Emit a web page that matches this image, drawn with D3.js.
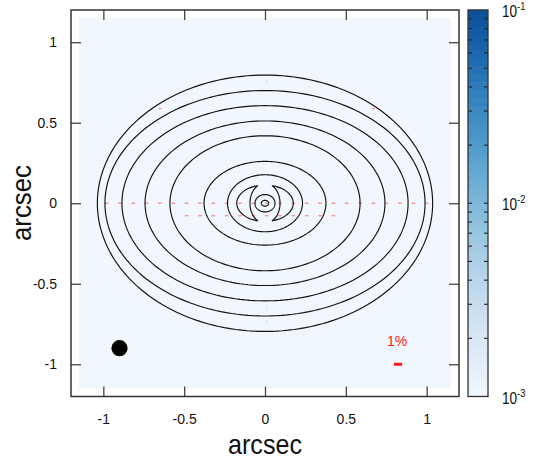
<!DOCTYPE html>
<html>
<head>
<meta charset="utf-8">
<script src="https://cdn.jsdelivr.net/npm/d3@7"></script>
<style>
  html, body { margin: 0; padding: 0; background: #ffffff; }
  svg { display: block; font-family: "Liberation Sans", Arial, Helvetica, sans-serif; }
</style>
</head>
<body>
<svg id="chart" width="551" height="460"></svg>
<script>
// ---------------- data (arcsec) ----------------
const axisTicks = [-1, -0.5, 0, 0.5, 1];
const axisTickLabels = ["-1", "-0.5", "0", "0.5", "1"];
const imageExtent = [-1.15, 1.15];

// intensity contours, approximated as centred ellipses: semi-axes in arcsec
const contourRx = [1.037, 0.99, 0.885, 0.742, 0.588, 0.377, 0.232, 0.062, 0.023];
const contourRy = [0.796, 0.70, 0.606, 0.511, 0.419, 0.26, 0.177, 0.054, 0.018];

// the broken ring (two crescents) between the inner levels
const crescentOuter = [0.175, 0.113];   // rx, ry of outer edge
const crescentInner = [0.093, 0.125];   // rx, ry of inner edge
const crescentTipX = 0.045;
const crescentSides = [-1, 1];

// polarization vectors: position (arcsec), fraction (%), angle (deg, 0 = horizontal)
const vecRow0X = [-0.98, -0.897, -0.815, -0.732, -0.65, -0.567, -0.485, -0.402, -0.32, -0.237, -0.155, -0.072, 0.01,
                  0.093, 0.175, 0.258, 0.34, 0.423, 0.505, 0.588, 0.67, 0.753, 0.835, 0.918, 1.0];
const vecRow0Y = 0.0;
const vecRow1X = [-0.485, -0.402, -0.32, -0.237, -0.155, -0.072, 0.01, 0.093, 0.175, 0.258, 0.34, 0.423];
const vecRow1Y = -0.077;
const vecRowP = 0.45;
const vecExtraX = [-0.65, 0.67, 0.588];
const vecExtraY = [0.588, 0.588, -0.657];
const vecExtraP = [0.4, 0.4, 0.35];
const vecExtraAng = [0, 0, 30];
const vecFaintX = [0.01, 0.01, 0.01];
const vecFaintY = [0.754, -0.655, -0.738];
const vecFaintP = [0.5, 0.5, 0.5];

// beam and 1% scale bar
const beamX = -0.9, beamY = -0.9, beamR = 0.05;
const scaleBarX = 0.823, scaleBarY = -1.0, scaleBarLen = 0.05, scaleBarLabel = "1%";

// colour bar (log)
const cbarDomain = [1e-3, 1e-1];
const cbarMajor = [1e-3, 1e-2, 1e-1];
const cbarMajorExp = ["-3", "-2", "-1"];
const cbarMinor = [2e-3, 3e-3, 4e-3, 5e-3, 6e-3, 7e-3, 8e-3, 9e-3, 1e-2,
                   2e-2, 3e-2, 4e-2, 5e-2, 6e-2, 7e-2, 8e-2, 9e-2];
const axisTitle = "arcsec";

// ---------------- drawing ----------------
const svg = d3.select("#chart");
const x = d3.scaleLinear().domain([-1.2, 1.2]).range([71, 459]);
const y = d3.scaleLinear().domain([-1.2, 1.2]).range([396.5, 10]);
const color = d3.scaleSequentialLog(t => d3.interpolateBlues(0.03 + 0.85 * t)).domain(cbarDomain);

// image background (all below colour-scale minimum)
svg.append("rect")
  .attr("x", x(imageExtent[0])).attr("y", y(imageExtent[1]))
  .attr("width", x(imageExtent[1]) - x(imageExtent[0]))
  .attr("height", y(imageExtent[0]) - y(imageExtent[1]))
  .attr("fill", color(cbarDomain[0]));

// polarization vectors
function vec(g, px, py, p, angDeg, stroke, width) {
  const L = p * scaleBarLen;           // arcsec length
  const a = angDeg * Math.PI / 180;
  const dx = Math.cos(a) * L / 2, dy = Math.sin(a) * L / 2;
  g.append("line")
    .attr("x1", x(px - dx)).attr("y1", y(py - dy))
    .attr("x2", x(px + dx)).attr("y2", y(py + dy))
    .attr("stroke", stroke).attr("stroke-width", width);
}
const gv = svg.append("g");
vecRow0X.forEach(v => vec(gv, v, vecRow0Y, vecRowP, 0, "#f39c9c", 1.5));
vecRow1X.forEach(v => vec(gv, v, vecRow1Y, vecRowP, 0, "#f39c9c", 1.5));
vecExtraX.forEach((v, i) => vec(gv, v, vecExtraY[i], vecExtraP[i], vecExtraAng[i], "#f39c9c", 1.3));
vecFaintX.forEach((v, i) => vec(gv, v, vecFaintY[i], vecFaintP[i], 90, "#dfe5eb", 1.3));

// contours
const line = d3.line().x(d => x(d[0])).y(d => y(d[1])).curve(d3.curveLinearClosed);
const smooth = d3.line().x(d => x(d[0])).y(d => y(d[1])).curve(d3.curveCatmullRomClosed.alpha(0.5));
const gc = svg.append("g").attr("fill", "none").attr("stroke", "#111").attr("stroke-width", 1.15);
const N = 180;
contourRx.forEach((rx, i) => {
  const ry = contourRy[i];
  const pts = d3.range(N).map(k => {
    const t = 2 * Math.PI * k / N;
    return [rx * Math.cos(t), ry * Math.sin(t)];
  });
  gc.append("path").attr("d", line(pts));
});
crescentSides.forEach(s => {
  const tO = Math.acos(crescentTipX / crescentOuter[0]);
  const tI = Math.acos(crescentTipX / crescentInner[0]);
  const pts = [];
  const m = 14;
  for (let k = 0; k <= m; k++) {
    const t = -tO + 2 * tO * k / m;
    pts.push([s * crescentOuter[0] * Math.cos(t), crescentOuter[1] * Math.sin(t)]);
  }
  for (let k = 1; k < m; k++) {
    const t = tI - 2 * tI * k / m;
    pts.push([s * crescentInner[0] * Math.cos(t), crescentInner[1] * Math.sin(t)]);
  }
  gc.append("path").attr("d", smooth(pts)).attr("stroke-linejoin", "round");
});

// beam
svg.append("circle")
  .attr("cx", x(beamX)).attr("cy", y(beamY))
  .attr("r", x(beamR) - x(0))
  .attr("fill", "#000");

// scale bar
svg.append("line")
  .attr("x1", x(scaleBarX - scaleBarLen / 2)).attr("x2", x(scaleBarX + scaleBarLen / 2))
  .attr("y1", y(scaleBarY)).attr("y2", y(scaleBarY))
  .attr("stroke", "#ff1a1a").attr("stroke-width", 3);
svg.append("text")
  .attr("x", x(scaleBarX) - 1).attr("y", y(scaleBarY) - 18)
  .attr("text-anchor", "middle").attr("font-size", 14).attr("fill", "#ff1a1a")
  .text(scaleBarLabel);

// axes with inward ticks
const fmt = (d) => axisTickLabels[axisTicks.indexOf(d)];
function styleAxis(g) {
  g.select(".domain").remove();
  g.selectAll(".tick line").attr("stroke", "#444").attr("stroke-width", 1.3);
  g.selectAll(".tick text").attr("fill", "#111").attr("font-size", 14)
    .attr("font-family", "Liberation Sans, Arial, sans-serif");
}
svg.append("g").attr("transform", "translate(0,396.5)")
  .call(d3.axisBottom(x).tickValues(axisTicks).tickFormat(fmt).tickSizeInner(-10).tickSizeOuter(0).tickPadding(18))
  .call(styleAxis);
svg.append("g").attr("transform", "translate(0,10)")
  .call(d3.axisTop(x).tickValues(axisTicks).tickFormat("").tickSizeInner(-10).tickSizeOuter(0))
  .call(styleAxis);
svg.append("g").attr("transform", "translate(71,0)")
  .call(d3.axisLeft(y).tickValues(axisTicks).tickFormat(fmt).tickSizeInner(-10).tickSizeOuter(0).tickPadding(14))
  .call(styleAxis);
svg.append("g").attr("transform", "translate(459,0)")
  .call(d3.axisRight(y).tickValues(axisTicks).tickFormat("").tickSizeInner(-10).tickSizeOuter(0))
  .call(styleAxis);

// frame
svg.append("rect")
  .attr("x", 71).attr("y", 10).attr("width", 459 - 71).attr("height", 396.5 - 10)
  .attr("fill", "none").attr("stroke", "#333").attr("stroke-width", 1.5);

// axis titles
svg.append("text")
  .attr("x", 265).attr("y", 454)
  .attr("text-anchor", "middle").attr("font-size", 28).attr("fill", "#111")
  .attr("textLength", 74).attr("lengthAdjust", "spacingAndGlyphs")
  .text(axisTitle);
svg.append("text")
  .attr("transform", "translate(31,203) rotate(-90)")
  .attr("text-anchor", "middle").attr("font-size", 28).attr("fill", "#111")
  .attr("textLength", 76).attr("lengthAdjust", "spacingAndGlyphs")
  .text(axisTitle);

// colour bar
const cb = { x0: 468, x1: 488 };
const cy = d3.scaleLog().domain(cbarDomain).range([396.5, 10]);
const nb = 48;
const bandVals = d3.range(nb).map(k => Math.pow(10, -3 + 2 * k / nb));
svg.append("g").selectAll("rect").data(bandVals).join("rect")
  .attr("x", cb.x0).attr("width", cb.x1 - cb.x0)
  .attr("y", d => cy(d * Math.pow(10, 2 / nb)) - 0.3)
  .attr("height", d => cy(d) - cy(d * Math.pow(10, 2 / nb)) + 0.6)
  .attr("fill", d => color(d * Math.pow(10, 1 / nb)));
const gt = svg.append("g").attr("stroke", "#222").attr("stroke-width", 1.1);
cbarMinor.forEach(v => {
  gt.append("line").attr("x1", cb.x0).attr("x2", cb.x0 + 4).attr("y1", cy(v)).attr("y2", cy(v));
  gt.append("line").attr("x1", cb.x1 - 4).attr("x2", cb.x1).attr("y1", cy(v)).attr("y2", cy(v));
});
svg.append("rect")
  .attr("x", cb.x0).attr("y", 10).attr("width", cb.x1 - cb.x0).attr("height", 396.5 - 10)
  .attr("fill", "none").attr("stroke", "#333").attr("stroke-width", 1.3);
cbarMajor.forEach((v, i) => {
  const t = svg.append("text")
    .attr("transform", `translate(502,${cy(v) + 7}) scale(0.85,1)`)
    .attr("font-size", 16).attr("fill", "#111");
  t.append("tspan").text("10");
  t.append("tspan").attr("dy", -7).attr("font-size", 11).text(cbarMajorExp[i]);
});
</script>
</body>
</html>
